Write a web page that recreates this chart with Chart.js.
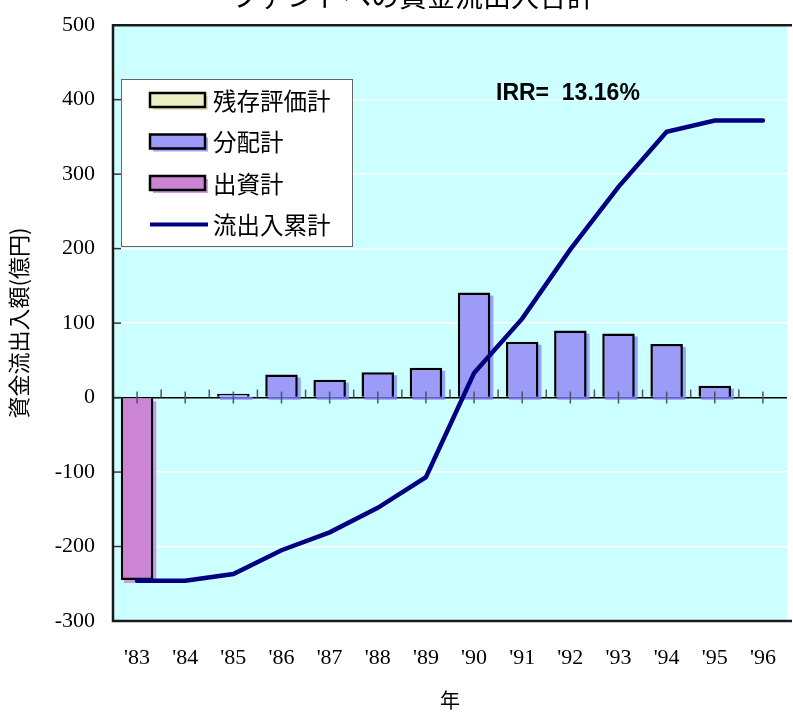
<!DOCTYPE html>
<html><head><meta charset="utf-8">
<script src="https://cdn.jsdelivr.net/npm/chart.js@4.4.1/dist/chart.umd.min.js"></script>
<style>
html,body{margin:0;padding:0;overflow:hidden;background:#fff;width:793px;height:713px}
#wrap{width:800px;height:719px;position:absolute;left:0;top:-6px}
</style>
</head><body>
<div id="wrap"><canvas id="c" width="800" height="719"></canvas></div>
<script>
const years = ["'83","'84","'85","'86","'87","'88","'89","'90","'91","'92","'93","'94","'95","'96"];
const residualValue = [null,null,null,null,null,null,null,null,null,null,null,null,null,null];
const distributions = [null,null,5,31,24,34,40,141,75,90,86,72,16,null];
const investments  = [-245,null,null,null,null,null,null,null,null,null,null,null,null,null];
const cumulative   = [-246,-246,-237,-205,-181,-148,-107,33,106,199,283,357,372,372];
const yMin = -300, yMax = 500, yStep = 100;
const chartTitle = 'ファンドへの資金流出入合計';
const irrText = 'IRR=  13.16%';
const yTitle = '資金流出入額(億円)';
const xTitle = '年';
const seriesNames = ['残存評価計','分配計','出資計','流出入累計'];

const COL_RES = '#EEEEC4', COL_DIST = '#9C9CF8', COL_INV = '#CC84D4', COL_LINE = '#000080';
const SHADOWS = [null,'rgba(130,130,255,0.75)','rgba(200,130,225,0.8)'];
const OY = 6; // canvas is shifted up by this many pixels

const deco = {
  id:'deco',
  beforeDraw(chart){
    const {ctx, chartArea:a} = chart;
    ctx.save();
    ctx.fillStyle = '#CCFFFF';
    ctx.fillRect(a.left, a.top, a.right-a.left, a.bottom-a.top);
    ctx.restore();
  },
  beforeDatasetsDraw(chart){
    const ctx = chart.ctx;
    ctx.save();
    [1,2].forEach(i=>{
      const meta = chart.getDatasetMeta(i);
      ctx.fillStyle = SHADOWS[i];
      meta.data.forEach((el,j)=>{
        if (chart.data.datasets[i].data[j]==null) return;
        const p = el.getProps(['x','y','base','width'], true);
        const top = Math.min(p.y,p.base), h = Math.abs(p.y-p.base);
        ctx.fillRect(p.x - p.width/2 + 3, top + 3, p.width, h);
      });
    });
    ctx.restore();
  },
  beforeDatasetDraw(chart,args){
    if (args.index !== 3) return;
    const {ctx, chartArea:a, scales:{x,y}} = chart;
    const y0 = y.getPixelForValue(0);
    ctx.save();
    ctx.strokeStyle = '#555'; ctx.lineWidth = 1.5;
    years.forEach((_,i)=>{
      const px = x.getPixelForValue(i);
      ctx.beginPath(); ctx.moveTo(px, y0-6); ctx.lineTo(px, y0+6); ctx.stroke();
      const bx = px + (x.getPixelForValue(1)-x.getPixelForValue(0))/2;
      if (i < years.length-1){ ctx.beginPath(); ctx.moveTo(bx, y0-8); ctx.lineTo(bx, y0); ctx.stroke(); }
    });
    ctx.strokeStyle = '#333';
    for (let v = yMin+yStep; v < yMax; v += yStep){
      const py = y.getPixelForValue(v);
      ctx.beginPath(); ctx.moveTo(a.left, py); ctx.lineTo(a.left+8, py); ctx.stroke();
    }
    ctx.strokeStyle = '#1a1a1a'; ctx.lineWidth = 2.5;
    ctx.beginPath();
    ctx.moveTo(a.right+5, a.top); ctx.lineTo(a.left, a.top); ctx.lineTo(a.left, a.bottom); ctx.lineTo(a.right+5, a.bottom);
    ctx.stroke();
    ctx.restore();
  },
  afterDatasetsDraw(chart){
    const ctx = chart.ctx;
    ctx.save();
    ctx.translate(0, OY);
    ctx.fillStyle = '#fff';
    ctx.fillRect(121,79,231,167);
    ctx.strokeStyle = '#666'; ctx.lineWidth = 1;
    ctx.strokeRect(121.5,79.5,231,167);
    const rows = [100,141.5,183,224.5];
    const fills = [COL_RES, COL_DIST, COL_INV];
    ctx.font = '23.5px "Noto Sans CJK JP"';
    ctx.textBaseline = 'middle'; ctx.textAlign = 'left';
    rows.forEach((ry,i)=>{
      if (i < 3){
        ctx.fillStyle = SHADOWS[i] || 'rgba(220,220,170,0.8)';
        ctx.fillRect(153, ry-7+3, 55, 14);
        ctx.fillStyle = fills[i];
        ctx.fillRect(150, ry-7, 55, 14);
        ctx.strokeStyle = '#000'; ctx.lineWidth = 2.5;
        ctx.strokeRect(150, ry-7, 55, 14);
      } else {
        ctx.strokeStyle = COL_LINE; ctx.lineWidth = 4;
        ctx.beginPath(); ctx.moveTo(150, ry); ctx.lineTo(208, ry); ctx.stroke();
      }
      ctx.fillStyle = '#000';
      ctx.fillText(seriesNames[i], 213, ry+1);
    });
    ctx.font = 'bold 23px "Liberation Sans"';
    ctx.fillText(irrText, 496, 94);
    ctx.font = '28px "Noto Sans CJK JP"';
    ctx.textAlign = 'center';
    ctx.fillText(chartTitle, 413, -4);
    ctx.restore();
  }
};

new Chart(document.getElementById('c'), {
  data: {
    labels: years,
    datasets: [
      {type:'bar', label:seriesNames[0], data:residualValue, backgroundColor:COL_RES, borderColor:'#000', borderWidth:2.5, stack:'bars', order:1},
      {type:'bar', label:seriesNames[1], data:distributions, backgroundColor:COL_DIST, borderColor:'#000', borderWidth:2.5, stack:'bars', order:1},
      {type:'bar', label:seriesNames[2], data:investments, backgroundColor:COL_INV, borderColor:'#000', borderWidth:2.5, stack:'bars', order:1},
      {type:'line', label:seriesNames[3], data:cumulative, borderColor:COL_LINE, borderWidth:4.5, pointRadius:0, tension:0, fill:false, stack:'line', order:0, borderCapStyle:'round'}
    ]
  },
  options: {
    responsive:false, animation:false,
    layout:{padding:{top:19, right:3, left:0, bottom:0}},
    plugins:{legend:{display:false}, tooltip:{enabled:false}, title:{display:false}},
    datasets:{bar:{barPercentage:0.675, categoryPercentage:1}},
    scales:{
      x:{
        type:'category', offset:true, stacked:true,
        grid:{display:false, drawTicks:false}, border:{display:false},
        ticks:{font:{family:'"Liberation Serif"', size:22}, color:'#000', padding:24, maxRotation:0, autoSkip:false},
        title:{display:true, text:xTitle, font:{family:'"Noto Sans CJK JP"', size:20}, color:'#000', padding:{top:0,bottom:1}},
        afterFit(s){ s.height = 92; }
      },
      y:{
        stacked:true, min:yMin, max:yMax,
        grid:{drawTicks:false, lineWidth:1.5, color:(c)=> c.tick && c.tick.value===0 ? '#000' : '#fff'},
        border:{display:false},
        ticks:{stepSize:yStep, font:{family:'"Liberation Serif"', size:22}, color:'#000', padding:18},
        title:{display:true, text:yTitle, font:{family:'"Noto Sans CJK JP"', size:22}, color:'#000', padding:{top:5,bottom:0}},
        afterFit(s){ s.width = 113; }
      }
    }
  },
  plugins:[deco]
});
</script>
</body></html>
